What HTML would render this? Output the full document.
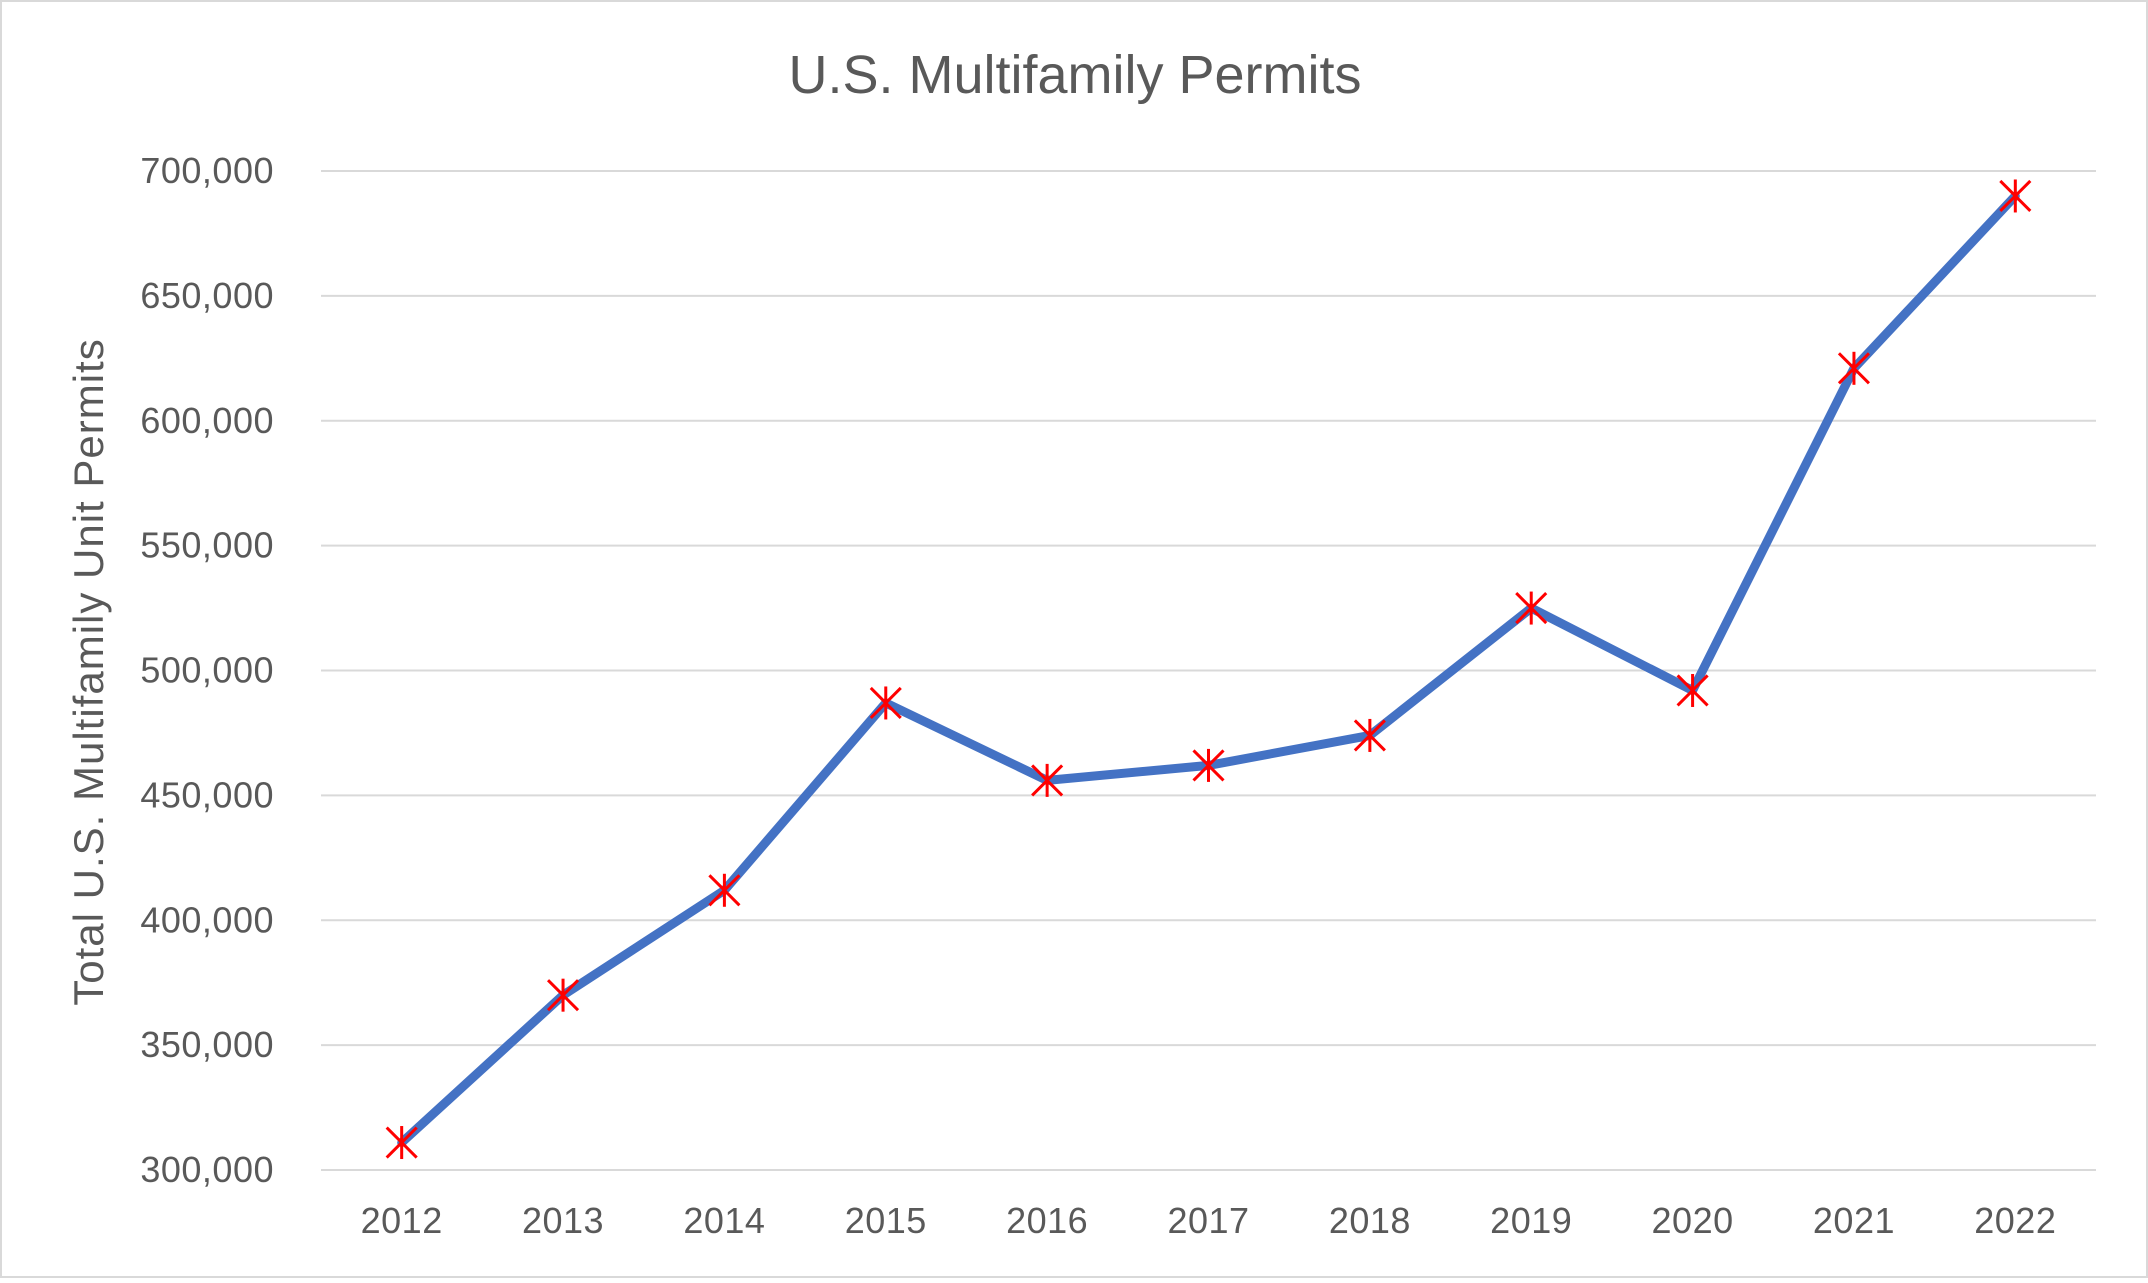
<!DOCTYPE html>
<html>
<head>
<meta charset="utf-8">
<style>
html,body{margin:0;padding:0;background:#fff;}
body{width:2148px;height:1278px;overflow:hidden;font-family:"Liberation Sans",sans-serif;}
</style>
</head>
<body>
<svg id="chart" width="2148" height="1278" xmlns="http://www.w3.org/2000/svg">
<rect x="1" y="1" width="2146" height="1276" fill="#fff" stroke="#d9d9d9" stroke-width="2"/>
<text x="1075" y="93" text-anchor="middle" font-size="54" fill="#595959">U.S. Multifamily Permits</text>
<text transform="translate(103,672) rotate(-90)" text-anchor="middle" font-size="42" letter-spacing="1" fill="#595959">Total U.S. Multifamily Unit Permits</text>
<g id="grid"></g>
<g id="yticks"></g>
<g id="xticks"></g>
<g id="series"></g>
</svg>
<script>
const categories = ["2012","2013","2014","2015","2016","2017","2018","2019","2020","2021","2022"];
const permits = [311000,370000,412000,487000,456000,462000,474000,525000,492000,621000,690000];
const yTickValues = [300000,350000,400000,450000,500000,550000,600000,650000,700000];

const NS = "http://www.w3.org/2000/svg";
const plotLeft = 321, plotRight = 2096, yTop = 171, yBottom = 1170;
const yMin = 300000, yMax = 700000;
const step = (plotRight - plotLeft) / categories.length;
function xScale(i){ return plotLeft + step * (i + 0.5); }
function yScale(v){ return yBottom - (v - yMin) / (yMax - yMin) * (yBottom - yTop); }
function mk(tag, attrs, parent){ const e=document.createElementNS(NS,tag); for(const k in attrs) e.setAttribute(k,attrs[k]); parent.appendChild(e); return e; }

const grid = document.getElementById('grid');
const yt = document.getElementById('yticks');
yTickValues.forEach(v=>{
  const y = yScale(v);
  const l = mk('line',{x1:plotLeft,x2:plotRight,y1:y,y2:y,stroke:'#d9d9d9','stroke-width':2},grid);
  
  
  const t = mk('text',{x:274,y:y+12,'text-anchor':'end','font-size':36,'letter-spacing':0.5,fill:'#595959'},yt);
  t.textContent = v.toLocaleString('en-US');
  
  
});
const xt = document.getElementById('xticks');
categories.forEach((c,i)=>{
  const t = mk('text',{x:xScale(i),y:1233,'text-anchor':'middle','font-size':36,'letter-spacing':0.5,fill:'#595959'},xt);
  t.textContent = c;
  
  
});
const s = document.getElementById('series');
const pts = permits.map((v,i)=>xScale(i)+','+yScale(v)).join(' ');
const line = mk('polyline',{points:pts,fill:'none',stroke:'#4472c4','stroke-width':9,'stroke-linejoin':'round','stroke-linecap':'round'},s);


permits.forEach((v,i)=>{
  const x=xScale(i), y=yScale(v), r=15;
  const g = mk('g',{stroke:'#ff0000','stroke-width':3},s);
  
  
  mk('line',{x1:x-r,y1:y-r,x2:x+r,y2:y+r},g);
  mk('line',{x1:x-r,y1:y+r,x2:x+r,y2:y-r},g);
  mk('line',{x1:x,y1:y-r*1.1,x2:x,y2:y+r*1.1},g);
});
</script>
</body>
</html>
